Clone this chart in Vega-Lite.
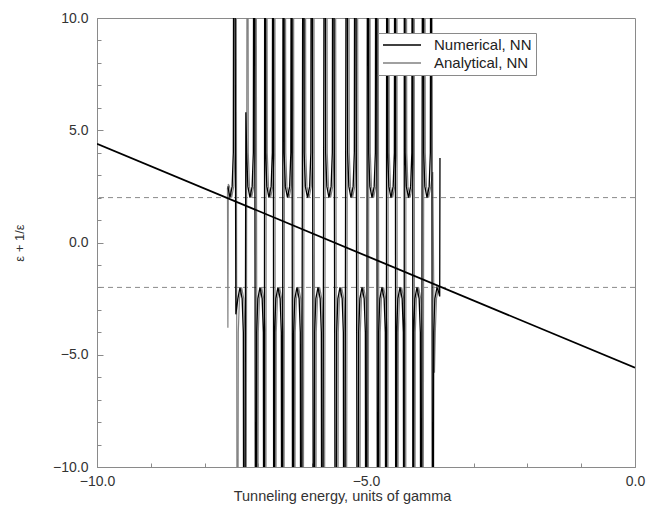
{
  "$schema": "https://vega.github.io/schema/vega-lite/v6.json",
  "width": 538,
  "height": 449,
  "autosize": {"type": "none"},
  "padding": {"left": 97, "top": 18, "right": 13, "bottom": 43},
  "config": {
    "font": "Liberation Sans",
    "view": {"stroke": "#8a8a8a", "strokeWidth": 1},
    "axis": {"domainColor": "#8a8a8a", "tickColor": "#8a8a8a", "labelColor": "#333333", "titleColor": "#333333", "labelFontSize": 14, "titleFontSize": 14.5, "titleFontWeight": "normal", "grid": false, "labelOverlap": false}
  },
  "datasets": {
    "diag": [{"E": -10, "v": 4.4}, {"E": 0, "v": -5.58}],
    "numerical": [
      {"E": -7.568, "v": 2.5}, {"E": -7.528, "v": 2}, {"E": -7.488, "v": 2.5}, {"E": -7.466, "v": 4}, {"E": -7.451, "v": 30},
      {"E": -7.419, "v": -3.2}, {"E": -7.382, "v": -2.5}, {"E": -7.342, "v": -2}, {"E": -7.302, "v": -2.5}, {"E": -7.28, "v": -4}, {"E": -7.265, "v": -30},
      {"E": -7.233, "v": 5.8}, {"E": -7.218, "v": 4}, {"E": -7.196, "v": 2.5}, {"E": -7.156, "v": 2}, {"E": -7.116, "v": 2.5}, {"E": -7.094, "v": 4}, {"E": -7.079, "v": 30},
      {"E": -7.047, "v": -30}, {"E": -7.032, "v": -4}, {"E": -7.01, "v": -2.5}, {"E": -6.97, "v": -2}, {"E": -6.93, "v": -2.5}, {"E": -6.908, "v": -4}, {"E": -6.893, "v": -30},
      {"E": -6.88, "v": 30}, {"E": -6.865, "v": 4}, {"E": -6.843, "v": 2.5}, {"E": -6.803, "v": 2}, {"E": -6.763, "v": 2.5}, {"E": -6.741, "v": 4}, {"E": -6.726, "v": 30},
      {"E": -6.713, "v": -30}, {"E": -6.698, "v": -4}, {"E": -6.676, "v": -2.5}, {"E": -6.636, "v": -2}, {"E": -6.596, "v": -2.5}, {"E": -6.574, "v": -4}, {"E": -6.559, "v": -30},
      {"E": -6.536, "v": 30}, {"E": -6.521, "v": 4}, {"E": -6.499, "v": 2.5}, {"E": -6.459, "v": 2}, {"E": -6.419, "v": 2.5}, {"E": -6.397, "v": 4}, {"E": -6.382, "v": 30},
      {"E": -6.36, "v": -30}, {"E": -6.345, "v": -4}, {"E": -6.323, "v": -2.5}, {"E": -6.283, "v": -2}, {"E": -6.243, "v": -2.5}, {"E": -6.221, "v": -4}, {"E": -6.206, "v": -30},
      {"E": -6.164, "v": 30}, {"E": -6.149, "v": 4}, {"E": -6.127, "v": 2.5}, {"E": -6.087, "v": 2}, {"E": -6.047, "v": 2.5}, {"E": -6.025, "v": 4}, {"E": -6.01, "v": 30},
      {"E": -5.969, "v": -30}, {"E": -5.954, "v": -4}, {"E": -5.932, "v": -2.5}, {"E": -5.892, "v": -2}, {"E": -5.852, "v": -2.5}, {"E": -5.83, "v": -4}, {"E": -5.815, "v": -30},
      {"E": -5.765, "v": 30}, {"E": -5.75, "v": 4}, {"E": -5.728, "v": 2.5}, {"E": -5.688, "v": 2}, {"E": -5.648, "v": 2.5}, {"E": -5.626, "v": 4}, {"E": -5.611, "v": 30},
      {"E": -5.56, "v": -30}, {"E": -5.545, "v": -4}, {"E": -5.523, "v": -2.5}, {"E": -5.483, "v": -2}, {"E": -5.443, "v": -2.5}, {"E": -5.421, "v": -4}, {"E": -5.406, "v": -30},
      {"E": -5.356, "v": 30}, {"E": -5.341, "v": 4}, {"E": -5.319, "v": 2.5}, {"E": -5.279, "v": 2}, {"E": -5.239, "v": 2.5}, {"E": -5.217, "v": 4}, {"E": -5.202, "v": 30},
      {"E": -5.151, "v": -30}, {"E": -5.136, "v": -4}, {"E": -5.114, "v": -2.5}, {"E": -5.074, "v": -2}, {"E": -5.034, "v": -2.5}, {"E": -5.012, "v": -4}, {"E": -4.997, "v": -30},
      {"E": -4.965, "v": 30}, {"E": -4.95, "v": 4}, {"E": -4.928, "v": 2.5}, {"E": -4.888, "v": 2}, {"E": -4.848, "v": 2.5}, {"E": -4.826, "v": 4}, {"E": -4.811, "v": 30},
      {"E": -4.78, "v": -30}, {"E": -4.765, "v": -4}, {"E": -4.743, "v": -2.5}, {"E": -4.703, "v": -2}, {"E": -4.663, "v": -2.5}, {"E": -4.641, "v": -4}, {"E": -4.626, "v": -30},
      {"E": -4.612, "v": 30}, {"E": -4.597, "v": 4}, {"E": -4.575, "v": 2.5}, {"E": -4.535, "v": 2}, {"E": -4.495, "v": 2.5}, {"E": -4.473, "v": 4}, {"E": -4.458, "v": 30},
      {"E": -4.445, "v": -30}, {"E": -4.43, "v": -4}, {"E": -4.408, "v": -2.5}, {"E": -4.368, "v": -2}, {"E": -4.328, "v": -2.5}, {"E": -4.306, "v": -4}, {"E": -4.291, "v": -30},
      {"E": -4.287, "v": 30}, {"E": -4.272, "v": 4}, {"E": -4.25, "v": 2.5}, {"E": -4.21, "v": 2}, {"E": -4.17, "v": 2.5}, {"E": -4.148, "v": 4}, {"E": -4.133, "v": 30},
      {"E": -4.129, "v": -30}, {"E": -4.114, "v": -4}, {"E": -4.092, "v": -2.5}, {"E": -4.052, "v": -2}, {"E": -4.012, "v": -2.5}, {"E": -3.99, "v": -4}, {"E": -3.975, "v": -30},
      {"E": -3.943, "v": 30}, {"E": -3.928, "v": 4}, {"E": -3.906, "v": 2.5}, {"E": -3.866, "v": 2}, {"E": -3.826, "v": 2.5}, {"E": -3.804, "v": 4}, {"E": -3.789, "v": 30},
      {"E": -3.757, "v": -30}, {"E": -3.742, "v": -4}, {"E": -3.72, "v": -2.5}, {"E": -3.68, "v": -2}, {"E": -3.65, "v": -2.2}, {"E": -3.63, "v": -2.4}, {"E": -3.625, "v": 3.76}
    ],
    "analytical": [
      {"E": -7.575, "v": 2.43}, {"E": -7.567, "v": -3.8}, {"E": -7.56, "v": 2.6},
      {"E": -7.538, "v": 2.5}, {"E": -7.498, "v": 2}, {"E": -7.458, "v": 2.5}, {"E": -7.436, "v": 4}, {"E": -7.421, "v": 30},
      {"E": -7.389, "v": -30}, {"E": -7.374, "v": -4}, {"E": -7.352, "v": -2.5}, {"E": -7.312, "v": -2}, {"E": -7.272, "v": -2.5}, {"E": -7.25, "v": -4}, {"E": -7.235, "v": -30},
      {"E": -7.203, "v": 30}, {"E": -7.188, "v": 4}, {"E": -7.166, "v": 2.5}, {"E": -7.126, "v": 2}, {"E": -7.086, "v": 2.5}, {"E": -7.064, "v": 4}, {"E": -7.049, "v": 30},
      {"E": -7.017, "v": -30}, {"E": -7.002, "v": -4}, {"E": -6.98, "v": -2.5}, {"E": -6.94, "v": -2}, {"E": -6.9, "v": -2.5}, {"E": -6.878, "v": -4}, {"E": -6.863, "v": -30},
      {"E": -6.85, "v": 30}, {"E": -6.835, "v": 4}, {"E": -6.813, "v": 2.5}, {"E": -6.773, "v": 2}, {"E": -6.733, "v": 2.5}, {"E": -6.711, "v": 4}, {"E": -6.696, "v": 30},
      {"E": -6.683, "v": -30}, {"E": -6.668, "v": -4}, {"E": -6.646, "v": -2.5}, {"E": -6.606, "v": -2}, {"E": -6.566, "v": -2.5}, {"E": -6.544, "v": -4}, {"E": -6.529, "v": -30},
      {"E": -6.506, "v": 30}, {"E": -6.491, "v": 4}, {"E": -6.469, "v": 2.5}, {"E": -6.429, "v": 2}, {"E": -6.389, "v": 2.5}, {"E": -6.367, "v": 4}, {"E": -6.352, "v": 30},
      {"E": -6.33, "v": -30}, {"E": -6.315, "v": -4}, {"E": -6.293, "v": -2.5}, {"E": -6.253, "v": -2}, {"E": -6.213, "v": -2.5}, {"E": -6.191, "v": -4}, {"E": -6.176, "v": -30},
      {"E": -6.134, "v": 30}, {"E": -6.119, "v": 4}, {"E": -6.097, "v": 2.5}, {"E": -6.057, "v": 2}, {"E": -6.017, "v": 2.5}, {"E": -5.995, "v": 4}, {"E": -5.98, "v": 30},
      {"E": -5.939, "v": -30}, {"E": -5.924, "v": -4}, {"E": -5.902, "v": -2.5}, {"E": -5.862, "v": -2}, {"E": -5.822, "v": -2.5}, {"E": -5.8, "v": -4}, {"E": -5.785, "v": -30},
      {"E": -5.735, "v": 30}, {"E": -5.72, "v": 4}, {"E": -5.698, "v": 2.5}, {"E": -5.658, "v": 2}, {"E": -5.618, "v": 2.5}, {"E": -5.596, "v": 4}, {"E": -5.581, "v": 30},
      {"E": -5.53, "v": -30}, {"E": -5.515, "v": -4}, {"E": -5.493, "v": -2.5}, {"E": -5.453, "v": -2}, {"E": -5.413, "v": -2.5}, {"E": -5.391, "v": -4}, {"E": -5.376, "v": -30},
      {"E": -5.326, "v": 30}, {"E": -5.311, "v": 4}, {"E": -5.289, "v": 2.5}, {"E": -5.249, "v": 2}, {"E": -5.209, "v": 2.5}, {"E": -5.187, "v": 4}, {"E": -5.172, "v": 30},
      {"E": -5.121, "v": -30}, {"E": -5.106, "v": -4}, {"E": -5.084, "v": -2.5}, {"E": -5.044, "v": -2}, {"E": -5.004, "v": -2.5}, {"E": -4.982, "v": -4}, {"E": -4.967, "v": -30},
      {"E": -4.935, "v": 30}, {"E": -4.92, "v": 4}, {"E": -4.898, "v": 2.5}, {"E": -4.858, "v": 2}, {"E": -4.818, "v": 2.5}, {"E": -4.796, "v": 4}, {"E": -4.781, "v": 30},
      {"E": -4.75, "v": -30}, {"E": -4.735, "v": -4}, {"E": -4.713, "v": -2.5}, {"E": -4.673, "v": -2}, {"E": -4.633, "v": -2.5}, {"E": -4.611, "v": -4}, {"E": -4.596, "v": -30},
      {"E": -4.582, "v": 30}, {"E": -4.567, "v": 4}, {"E": -4.545, "v": 2.5}, {"E": -4.505, "v": 2}, {"E": -4.465, "v": 2.5}, {"E": -4.443, "v": 4}, {"E": -4.428, "v": 30},
      {"E": -4.415, "v": -30}, {"E": -4.4, "v": -4}, {"E": -4.378, "v": -2.5}, {"E": -4.338, "v": -2}, {"E": -4.298, "v": -2.5}, {"E": -4.276, "v": -4}, {"E": -4.261, "v": -30},
      {"E": -4.257, "v": 30}, {"E": -4.242, "v": 4}, {"E": -4.22, "v": 2.5}, {"E": -4.18, "v": 2}, {"E": -4.14, "v": 2.5}, {"E": -4.118, "v": 4}, {"E": -4.103, "v": 30},
      {"E": -4.099, "v": -30}, {"E": -4.084, "v": -4}, {"E": -4.062, "v": -2.5}, {"E": -4.022, "v": -2}, {"E": -3.982, "v": -2.5}, {"E": -3.96, "v": -4}, {"E": -3.945, "v": -30},
      {"E": -3.913, "v": 30}, {"E": -3.898, "v": 4}, {"E": -3.876, "v": 2.5}, {"E": -3.836, "v": 2}, {"E": -3.796, "v": 2.5}, {"E": -3.774, "v": 2.9}, {"E": -3.759, "v": 3.14},
      {"E": -3.727, "v": -5.8}, {"E": -3.712, "v": -4}, {"E": -3.69, "v": -2.5}, {"E": -3.65, "v": -2}, {"E": -3.63, "v": -2.1}
    ]
  },
  "layer": [
    {
      "data": {"values": [{"v": 2}, {"v": -2}]},
      "mark": {"type": "rule", "strokeDash": [5, 4], "color": "#8a8a8a", "strokeWidth": 1},
      "encoding": {
        "y": {
          "field": "v", "type": "quantitative",
          "scale": {"domain": [-10, 10], "nice": false, "zero": false},
          "axis": {
            "orient": "left", "title": null, "labels": false, "domain": false,
            "values": [-9, -8, -7, -6, -4, -3, -2, -1, 1, 2, 3, 4, 6, 7, 8, 9],
            "tickSize": -4
          }
        }
      }
    },
    {
      "data": {"name": "analytical"},
      "mark": {"type": "line", "clip": true, "strokeWidth": 1.2},
      "encoding": {
        "x": {"field": "E", "type": "quantitative"},
        "y": {
          "field": "v", "type": "quantitative",
          "axis": {
            "orient": "left",
            "title": "ε + 1/ε",
            "values": [-10, -5, 0, 5, 10],
            "format": ".1f",
            "tickSize": -6, "labelPadding": 15, "titlePadding": 26, "titleFontSize": 13, "labelFlush": false, "labelOverlap": false
          }
        },
        "color": {
          "datum": "Analytical, NN", "type": "nominal",
          "scale": {"domain": ["Numerical, NN", "Analytical, NN"], "range": ["#000000", "#808080"]},
          "legend": {
            "title": null, "orient": "none", "legendX": 281, "legendY": 15,
            "direction": "vertical",
            "fillColor": "#ffffff", "strokeColor": "#8a8a8a", "padding": 4,
            "symbolType": "stroke", "symbolSize": 1444, "symbolStrokeWidth": 1.3, "clipHeight": 16,
            "labelFontSize": 15, "labelColor": "#222222", "labelOffset": 12, "rowPadding": 2
          }
        }
      }
    },
    {
      "data": {"name": "numerical"},
      "mark": {"type": "line", "clip": true, "strokeWidth": 1.3},
      "encoding": {
        "x": {"field": "E", "type": "quantitative"},
        "y": {"field": "v", "type": "quantitative", "axis": null},
        "color": {"datum": "Numerical, NN", "type": "nominal"}
      }
    },
    {
      "data": {"name": "diag"},
      "mark": {"type": "line", "clip": true, "strokeWidth": 1.8, "color": "#000000"},
      "encoding": {
        "x": {
          "field": "E", "type": "quantitative",
          "scale": {"domain": [-10, 0], "nice": false, "zero": false},
          "axis": {
            "title": "Tunneling energy, units of gamma",
            "values": [-10, -9, -8, -7, -6, -5, -4, -3, -2, -1, 0],
            "labelExpr": "datum.value % 5 == 0 ? format(datum.value, '.1f') : ''",
            "tickSize": -4, "labelPadding": 11, "titlePadding": 1, "titleX": 245, "labelFlush": false, "labelOverlap": false
          }
        },
        "y": {"field": "v", "type": "quantitative", "axis": null}
      }
    }
  ],
  "resolve": {"axis": {"y": "independent"}}
}
